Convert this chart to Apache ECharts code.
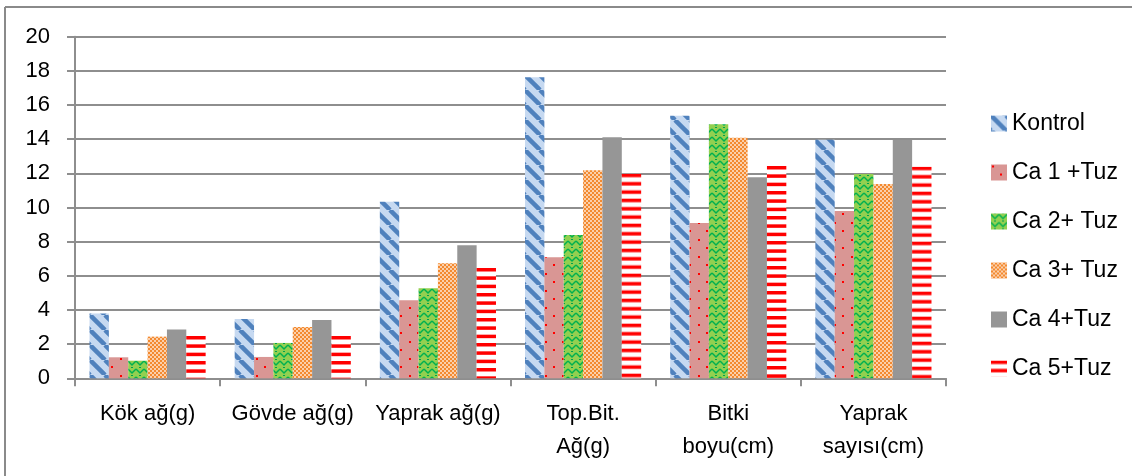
<!DOCTYPE html>
<html>
<head>
<meta charset="utf-8">
<script src="https://cdn.jsdelivr.net/npm/echarts@6/dist/echarts.min.js"></script>
<style>
html,body{margin:0;padding:0;background:#fff;}
#chart{width:1132px;height:476px;}
</style>
</head>
<body>
<div id="chart"></div>
<script>
var categories = ['Kök ağ(g)', 'Gövde ağ(g)', 'Yaprak ağ(g)', 'Top.Bit.\nAğ(g)', 'Bitki\nboyu(cm)', 'Yaprak\nsayısı(cm)'];
var seriesNames = ['Kontrol', 'Ca 1 +Tuz', 'Ca 2+ Tuz', 'Ca 3+ Tuz', 'Ca 4+Tuz', 'Ca 5+Tuz'];
var kontrol = [3.80, 3.47, 10.34, 17.62, 15.37, 13.97];
var ca1 = [1.23, 1.25, 4.57, 7.08, 9.09, 9.79];
var ca2 = [1.03, 2.07, 5.27, 8.39, 14.87, 11.96];
var ca3 = [2.44, 3.00, 6.73, 12.18, 14.09, 11.38];
var ca4 = [2.85, 3.41, 7.79, 14.11, 11.77, 13.95];
var ca5 = [2.48, 2.48, 6.46, 11.98, 12.43, 12.39];
var yTicks = [0, 2, 4, 6, 8, 10, 12, 14, 16, 18, 20];

function makeCanvas(w, h, draw) {
  var c = document.createElement('canvas');
  c.width = w; c.height = h;
  draw(c.getContext('2d'), w, h);
  return c;
}
function pat(c, extra) {
  var p = { image: c, repeat: 'repeat' };
  if (extra) { for (var k in extra) p[k] = extra[k]; }
  return p;
}
var cvKontrol = makeCanvas(15, 15, function (ctx, w, h) {
  ctx.fillStyle = '#c6d9f1'; ctx.fillRect(0, 0, w, h);
  ctx.strokeStyle = '#4f81bd'; ctx.lineWidth = 4.5;
  for (var k = -1; k <= 1; k++) {
    ctx.beginPath(); ctx.moveTo(k * w, 0); ctx.lineTo(k * w + w, h); ctx.stroke();
  }
});
var cvCa1 = makeCanvas(17, 17, function (ctx, w, h) {
  ctx.fillStyle = '#d99694'; ctx.fillRect(0, 0, w, h);
  ctx.fillStyle = '#ff0000';
  ctx.fillRect(1, 1, 2, 2);
  ctx.fillRect(9, 9, 2, 2);
});
var cvCa2 = makeCanvas(8, 8, function (ctx, w, h) {
  ctx.fillStyle = '#92d050'; ctx.fillRect(0, 0, w, h);
  ctx.strokeStyle = '#00b050'; ctx.lineWidth = 1.5;
  ctx.beginPath(); ctx.moveTo(0, 1); ctx.lineTo(4, 5); ctx.lineTo(8, 1); ctx.stroke();
  ctx.fillStyle = '#00a050';
  ctx.fillRect(3, 7, 2, 1);
});
var cvCa3 = makeCanvas(4, 4, function (ctx, w, h) {
  ctx.fillStyle = '#fbd0ac'; ctx.fillRect(0, 0, w, h);
  ctx.fillStyle = '#f38a30';
  ctx.fillRect(0, 0, 2, 2); ctx.fillRect(2, 2, 2, 2);
});
var cvCa5 = makeCanvas(4, 25, function (ctx, w, h) {
  ctx.fillStyle = '#ffffff'; ctx.fillRect(0, 0, w, h);
  ctx.fillStyle = '#ff0000';
  ctx.fillRect(0, 0, w, 3.5); ctx.fillRect(0, 8.33, w, 3.5); ctx.fillRect(0, 16.67, w, 3.5);
});

var dataSets = [kontrol, ca1, ca2, ca3, ca4, ca5];
var fills = [pat(cvKontrol), pat(cvCa1), pat(cvCa2), pat(cvCa3), '#969696', pat(cvCa5)];
var font = "'Liberation Sans', Arial, sans-serif";

function buildSeries(ca5Data) {
  return seriesNames.map(function (name, i) {
    return {
      name: name,
      type: 'bar',
      data: (i === 5 && ca5Data) ? ca5Data : dataSets[i],
      barGap: '0%',
      barCategoryGap: '20%',
      itemStyle: { color: fills[i] },
      emphasis: { disabled: true }
    };
  });
}

var chart = echarts.init(document.getElementById('chart'), null, { renderer: 'canvas' });
chart.setOption({
  animation: false,
  backgroundColor: '#ffffff',
  textStyle: { fontFamily: font },
  grid: { left: 75, right: 186, top: 36.7, bottom: 97.7, containLabel: false },
  legend: {
    orient: 'vertical',
    left: 986,
    top: 107,
    itemWidth: 16,
    itemHeight: 16,
    itemGap: 26,
    icon: 'rect',
    data: seriesNames,
    textStyle: { fontFamily: font, fontSize: 23, color: '#000', padding: [0, 0, 0, 0] }
  },
  xAxis: {
    type: 'category',
    data: categories,
    boundaryGap: true,
    axisLine: { show: true, lineStyle: { color: '#8e8e8e', width: 2 } },
    axisTick: { show: true, length: 8, lineStyle: { color: '#8e8e8e', width: 2 } },
    axisLabel: { fontFamily: font, fontSize: 22, color: '#000', margin: 19, lineHeight: 33, interval: 0 }
  },
  yAxis: {
    type: 'value',
    min: yTicks[0],
    max: yTicks[yTicks.length - 1],
    interval: yTicks[1] - yTicks[0],
    axisLine: { show: true, lineStyle: { color: '#8e8e8e', width: 2 } },
    axisTick: { show: true, length: 8, lineStyle: { color: '#8e8e8e', width: 2 } },
    splitLine: { show: true, lineStyle: { color: '#8e8e8e', width: 2 } },
    axisLabel: { fontFamily: font, fontSize: 22, color: '#000', margin: 25 }
  },
  graphic: [
    { type: 'line', shape: { x1: 5, y1: 7, x2: 1132, y2: 7 }, style: { stroke: '#8a8a8a', lineWidth: 2 } },
    { type: 'line', shape: { x1: 5, y1: 7, x2: 5, y2: 476 }, style: { stroke: '#8a8a8a', lineWidth: 2 } }
  ],
  series: buildSeries(null)
});

// Anchor the red stripe pattern of each Ca 5 bar at the bar's own top, using the chart's scale.
var ca5Items = ca5.map(function (v, i) {
  var top = chart.convertToPixel({ xAxisIndex: 0, yAxisIndex: 0 }, [i, v])[1];
  return { value: v, itemStyle: { color: pat(cvCa5, { y: top }) } };
});
chart.setOption({ series: buildSeries(ca5Items) });
</script>
</body>
</html>
